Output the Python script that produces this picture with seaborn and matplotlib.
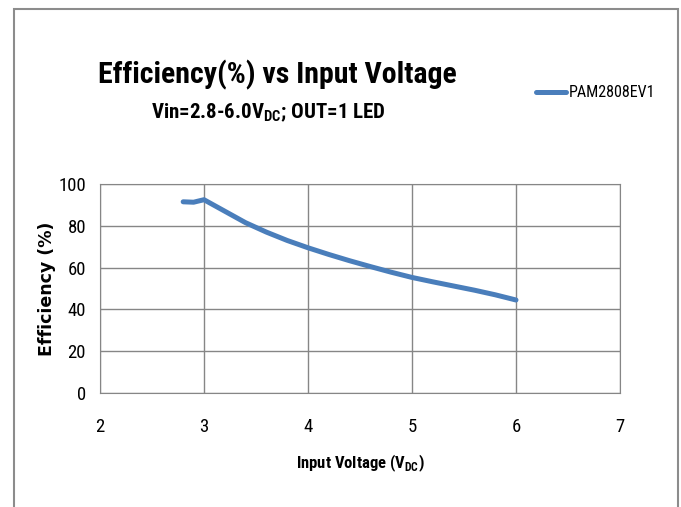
import seaborn as sns
import numpy as np
import pandas as pd
import matplotlib.pyplot as plt
from matplotlib import font_manager
from matplotlib.patches import Rectangle

voltage = [2.8, 2.9, 3.0, 3.2, 3.4, 3.6, 3.8, 4.0, 4.2, 4.4, 4.6, 4.8, 5.0, 5.2, 5.4, 5.6, 5.8, 6.0]
efficiency = [91.5, 91.3, 92.5, 87.0, 81.5, 77.0, 73.0, 69.5, 66.3, 63.3, 60.5, 57.8, 55.3, 53.2, 51.2, 49.2, 47.0, 44.5]
series_name = 'PAM2808EV1'
x_ticks = [2, 3, 4, 5, 6, 7]
y_ticks = [0, 20, 40, 60, 80, 100]

sns.set_style('white')

# pick a narrow font if one exists, else condensed DejaVu
have = {f.name for f in font_manager.fontManager.ttflist}
narrow = 'DejaVu Sans'
for cand in ['Liberation Sans Narrow', 'Roboto Condensed', 'Open Sans Condensed']:
    if cand in have:
        narrow = cand
        break
plt.rcParams['font.family'] = [narrow, 'DejaVu Sans']
plt.rcParams['font.stretch'] = 'condensed'
plt.rcParams['text.color'] = 'black'
plt.rcParams['xtick.color'] = 'black'
plt.rcParams['ytick.color'] = 'black'
plt.rcParams['axes.labelcolor'] = 'black'
plt.rcParams['mathtext.fontset'] = 'custom'
plt.rcParams['mathtext.rm'] = narrow
plt.rcParams['mathtext.bf'] = narrow + ':bold'

df = pd.DataFrame({'v': voltage, 'eff': efficiency, 'series': series_name})

fig = plt.figure(figsize=(6.81, 5.07), dpi=100)
ax = fig.add_axes([0.1468, 0.2249, 0.7636, 0.4121])

sns.lineplot(data=df, x='v', y='eff', hue='series', palette=['#4a7ebb'],
             linewidth=3.6, sort=False, ax=ax, solid_capstyle='round')

ax.set_xlim(2, 7)
ax.set_ylim(0, 100)
ax.set_xticks(x_ticks)
ax.set_yticks(y_ticks)
ax.grid(True, color='#868686', linewidth=1)
for s in ax.spines.values():
    s.set_color('#868686')
ax.tick_params(axis='x', length=0, pad=18, labelsize=13.5)
ax.tick_params(axis='y', length=0, pad=10, labelsize=13.5)

ax.set_xlabel('Input Voltage (V$_{\\mathbf{DC}}$)', fontsize=12, fontweight='bold', labelpad=12)
ax.set_ylabel('Efficiency (%)', fontsize=12.5, fontweight='bold', family='DejaVu Sans',
              fontstretch='normal', labelpad=1.5)

fig.text(0.4075, 0.852, 'Efficiency(%) vs Input Voltage', fontsize=21.5, fontweight='bold',
         ha='center', va='center')
fig.text(0.394, 0.777, 'Vin=2.8-6.0V$_{\\mathbf{DC}}$; OUT=1 LED', fontsize=15, fontweight='bold',
         ha='center', va='center')

ax.legend(loc='center left', bbox_to_anchor=(0.766, 0.817), bbox_transform=fig.transFigure,
          frameon=False, fontsize=11.5, handlelength=1.9, handletextpad=0.15, title=None)

fig.patches.append(Rectangle((13.5 / 681, -0.1), (678 - 13.5) / 681, 1.1 - 9 / 507,
                             transform=fig.transFigure, fill=False, edgecolor='#8c8c8c',
                             linewidth=1.5))

fig.savefig('out.png', dpi=100)
